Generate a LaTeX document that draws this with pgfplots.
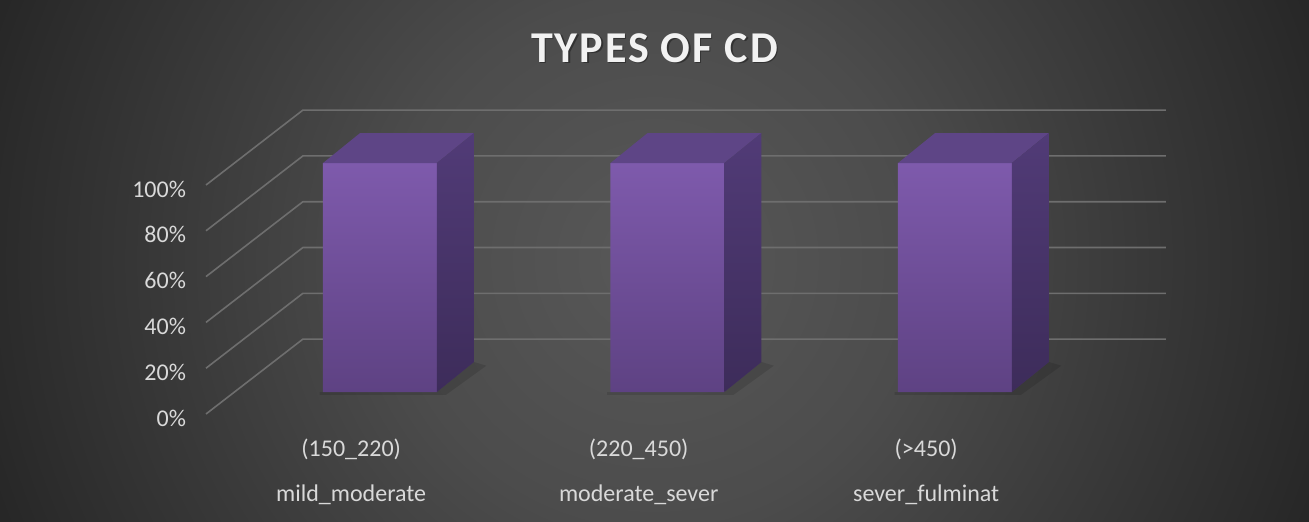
\documentclass[border=0pt]{standalone}
\usepackage{pgfplots}
\pgfplotsset{compat=1.18}
\usepackage{pgfplotstable}
\usepackage{fontspec}
\setmainfont{Carlito}
\newfontfamily\titlefont[LetterSpace=4.5]{Carlito}
\definecolor{bgin}{HTML}{585858}
\definecolor{bgmid}{HTML}{4C4C4C}
\definecolor{bgout}{HTML}{2B2B2B}
\definecolor{bgcorner}{HTML}{242424}
\definecolor{txt}{HTML}{D9D9D9}
\definecolor{gridc}{HTML}{6E6E6E}
\definecolor{frontTop}{HTML}{7E5AAC}
\definecolor{frontBot}{HTML}{5E4283}
\definecolor{topFace}{HTML}{5E4586}
\definecolor{sideTop}{HTML}{513B77}
\definecolor{sideBot}{HTML}{3D2C5A}
\pgfdeclareradialshading{bgshade}{\pgfpoint{0bp}{0bp}}{color(0bp)=(bgin); color(10bp)=(bgmid); color(25bp)=(bgout); color(28bp)=(bgcorner); color(40bp)=(bgcorner)}
\pgfplotstableread{
x y label
0 100 mild
1 100 moderate
2 100 sever
}\cddata
\begin{document}
\begin{tikzpicture}[x=1pt,y=1pt]
\useasboundingbox (0,0) rectangle (654.5,260.5);
\begin{scope}
\clip (0,0) rectangle (654.5,260.5);
\shade[shading=bgshade] (0,-197) rectangle (654.5,457.5);
\end{scope}
% title
\node[text=black, opacity=0.35] at (327.9,235.8) {\titlefont\fontsize{22}{26}\selectfont\bfseries TYPES OF CD};
\node[text=white!95!black] at (327.25,236.5) {\titlefont\fontsize{22}{26}\selectfont\bfseries TYPES OF CD};
\begin{axis}[
  at={(103pt,53.5pt)}, anchor=south west,
  x=143.75pt, y=1.145pt,
  xmin=-0.605, xmax=2.734, ymin=-9.6, ymax=123.1,
  clip=false,
  axis line style={draw=none},
  major tick length=0pt,
  ytick={-9.6,10.4,30.4,50.4,70.4,90.4},
  yticklabels={0\%,20\%,40\%,60\%,80\%,100\%},
  yticklabel style={anchor=east, xshift=-6.5pt, yshift=-2pt, text=txt, font=\fontsize{12}{14}\selectfont},
  xtick={-0.1,0.9,1.9},
  xticklabels={{(150\_220)\\mild\_moderate},{(220\_450)\\moderate\_sever},{(>450)\\sever\_fulminat}},
  xticklabel style={anchor=north, yshift=-8.8pt, align=center, text=txt, font=\fontsize{12}{22.5}\selectfont},
]
% gridlines: left wall diagonals and back wall
\pgfplotsinvokeforeach{0,20,40,60,80,100}{
  \addplot[gridc, line width=0.8pt] coordinates {(-0.605,#1-9.6) (-0.268,#1+23.1) (2.734,#1+23.1)};
}
% soft shadows on floor
\addplot[fill=black, opacity=0.12, draw=none] coordinates {(-0.21,0)(0.198,0)(0.327,13.1)(0.37,11.5)(0.23,-1.2)(-0.21,-1.2)};
\addplot[fill=black, opacity=0.12, draw=none] coordinates {(0.79,0)(1.198,0)(1.327,13.1)(1.37,11.5)(1.23,-1.2)(0.79,-1.2)};
\addplot[fill=black, opacity=0.12, draw=none] coordinates {(1.79,0)(2.198,0)(2.327,13.1)(2.37,11.5)(2.23,-1.2)(1.79,-1.2)};
% front faces
\addplot[ybar, bar width=57pt, draw=none, top color=frontTop, bottom color=frontBot] table[x=x,y=y]{\cddata};
% top faces
\addplot[fill=topFace, draw=none] coordinates {(-0.198,100)(0.198,100)(0.327,113.1)(-0.069,113.1)};
\addplot[fill=topFace, draw=none] coordinates {(0.802,100)(1.198,100)(1.327,113.1)(0.931,113.1)};
\addplot[fill=topFace, draw=none] coordinates {(1.802,100)(2.198,100)(2.327,113.1)(1.931,113.1)};
% side faces
\addplot[top color=sideTop, bottom color=sideBot, draw=none] coordinates {(0.198,0)(0.327,13.1)(0.327,113.1)(0.198,100)};
\addplot[top color=sideTop, bottom color=sideBot, draw=none] coordinates {(1.198,0)(1.327,13.1)(1.327,113.1)(1.198,100)};
\addplot[top color=sideTop, bottom color=sideBot, draw=none] coordinates {(2.198,0)(2.327,13.1)(2.327,113.1)(2.198,100)};
\end{axis}
\end{tikzpicture}
\end{document}
